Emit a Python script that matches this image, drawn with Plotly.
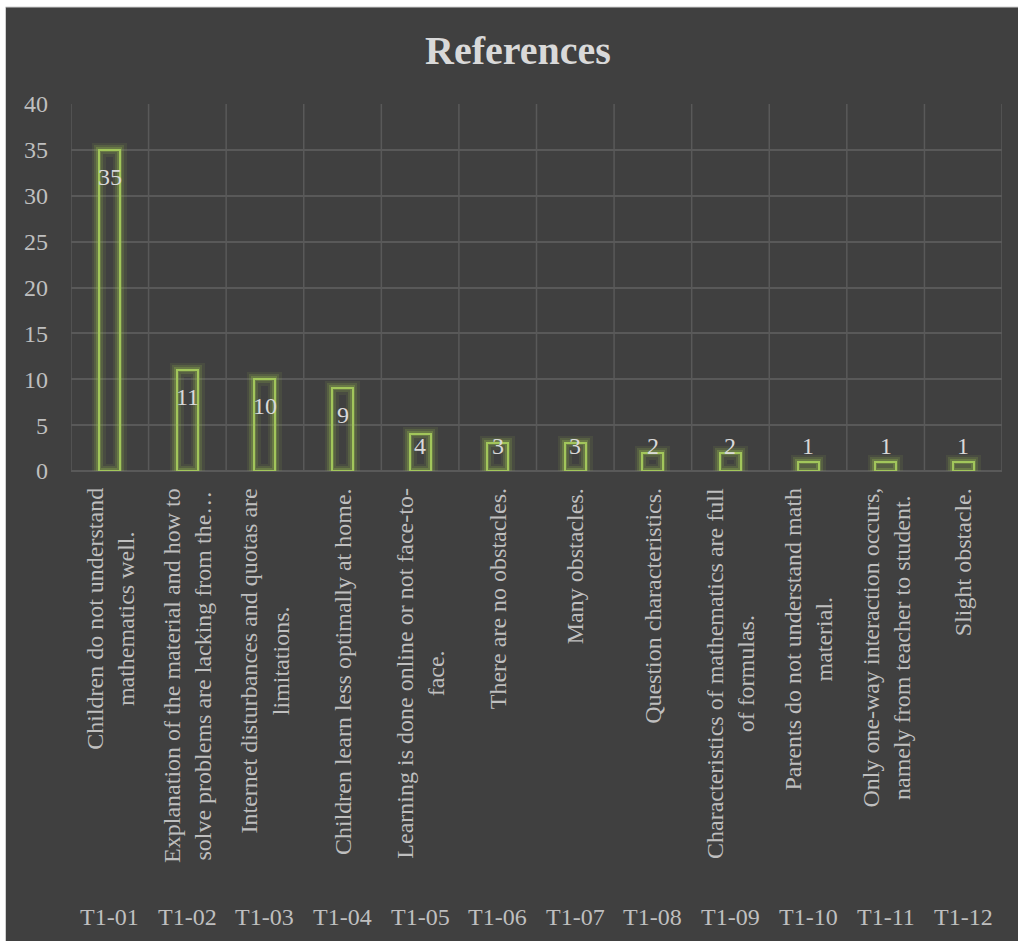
import plotly.graph_objects as go

# Chart content
codes = ["T1-01", "T1-02", "T1-03", "T1-04", "T1-05", "T1-06",
         "T1-07", "T1-08", "T1-09", "T1-10", "T1-11", "T1-12"]
descriptions = [
    "Children do not understand<br>mathematics well.",
    "Explanation of the material and how to<br>solve problems are lacking from the\u2026",
    "Internet disturbances and quotas are<br>limitations.",
    "Children learn less optimally at home.",
    "Learning is done online or not face-to-<br>face.",
    "There are no obstacles.",
    "Many obstacles.",
    "Question characteristics.",
    "Characteristics of mathematics are full<br>of formulas.",
    "Parents do not understand math<br>material.",
    "Only one-way interaction occurs,<br>namely from teacher to student.",
    "Slight obstacle.",
]
references = [35, 11, 10, 9, 4, 3, 3, 2, 2, 1, 1, 1]
y_ticks = [0, 5, 10, 15, 20, 25, 30, 35, 40]

# Page geometry (pixels)
W, H = 1018, 941
L, R, T, B = 71, 1002, 104, 471
PW, PH = R - L, B - T
Y_MAX = 40

FONT = "Liberation Serif"
BG = "#404040"
GRID = "#595959"
GREEN = "#A2C65B"
TEXT = "#BFBFBF"
TEXT_LIGHT = "#D9D9D9"


def px_x(p):
    return (p - L) / PW


def px_y(p):
    return (B - p) / PH


idx = list(range(len(codes)))
fig = go.Figure()

# soft glow layers, then the crisp outline
glow = [(14, "rgba(155,190,80,0.10)"), (9, "rgba(155,190,80,0.18)"),
        (5, "rgba(155,190,80,0.28)"), (2, GREEN)]
for lw, col in glow:
    fig.add_trace(go.Bar(
        x=idx, y=references, width=0.27,
        marker=dict(color="rgba(0,0,0,0)", line=dict(color=col, width=lw)),
        hoverinfo="skip" if lw != 2 else None,
        showlegend=False,
    ))

annotations = []
# value labels sit just inside the top end of each bar
units_per_px = Y_MAX / PH
for i, v in zip(idx, references):
    y_lab = max(v - 27 * units_per_px, 25 * units_per_px)
    annotations.append(dict(
        x=i, y=y_lab, xref="x", yref="y", text=str(v), showarrow=False,
        xanchor="center", yanchor="middle",
        font=dict(family=FONT, size=24, color=TEXT_LIGHT),
    ))

# rotated category descriptions and the code row beneath them
for i, (d, c) in enumerate(zip(descriptions, codes)):
    annotations.append(dict(
        x=i, y=px_y(486), xref="x", yref="paper", text=d, showarrow=False,
        textangle=-90, xanchor="center", yanchor="top", align="center",
        font=dict(family=FONT, size=24, color=TEXT),
    ))
    annotations.append(dict(
        x=i, y=px_y(917), xref="x", yref="paper", text=c, showarrow=False,
        xanchor="center", yanchor="middle",
        font=dict(family=FONT, size=24, color=TEXT),
    ))

shapes = [
    # dark chart panel with its thin light frame
    dict(type="rect", xref="paper", yref="paper", layer="below",
         x0=px_x(5.5), x1=px_x(W + 20), y0=px_y(H + 20), y1=px_y(7),
         fillcolor=BG, line=dict(color="#D0D0D0", width=1)),
]

fig.update_layout(
    width=W, height=H,
    margin=dict(l=L, r=W - R, t=T, b=H - B, pad=0),
    paper_bgcolor="white",
    plot_bgcolor=BG,
    barmode="overlay",
    bargap=0,
    title=dict(text="<b>References</b>", x=518 / W, xref="container", xanchor="center",
               y=1 - 50 / H, yanchor="middle",
               font=dict(family=FONT, size=40, color=TEXT_LIGHT)),
    xaxis=dict(range=[-0.5, len(codes) - 0.5], tickvals=idx, showticklabels=False,
               showgrid=False, zeroline=False, showline=False, fixedrange=True),
    yaxis=dict(range=[0, Y_MAX], tickvals=y_ticks, showgrid=True,
               gridcolor=GRID, gridwidth=1.5, zeroline=True, zerolinecolor=GRID,
               zerolinewidth=1.5, ticks="", ticklabelstandoff=22,
               tickfont=dict(family=FONT, size=24, color=TEXT)),
    annotations=annotations,
    shapes=shapes,
    showlegend=False,
)

# vertical grid lines at category boundaries
for k in range(len(codes) + 1):
    fig.add_shape(type="line", xref="x", yref="y", layer="below",
                  x0=k - 0.5, x1=k - 0.5, y0=0, y1=Y_MAX,
                  line=dict(color=GRID, width=1.5))

fig.write_html("out.html")
